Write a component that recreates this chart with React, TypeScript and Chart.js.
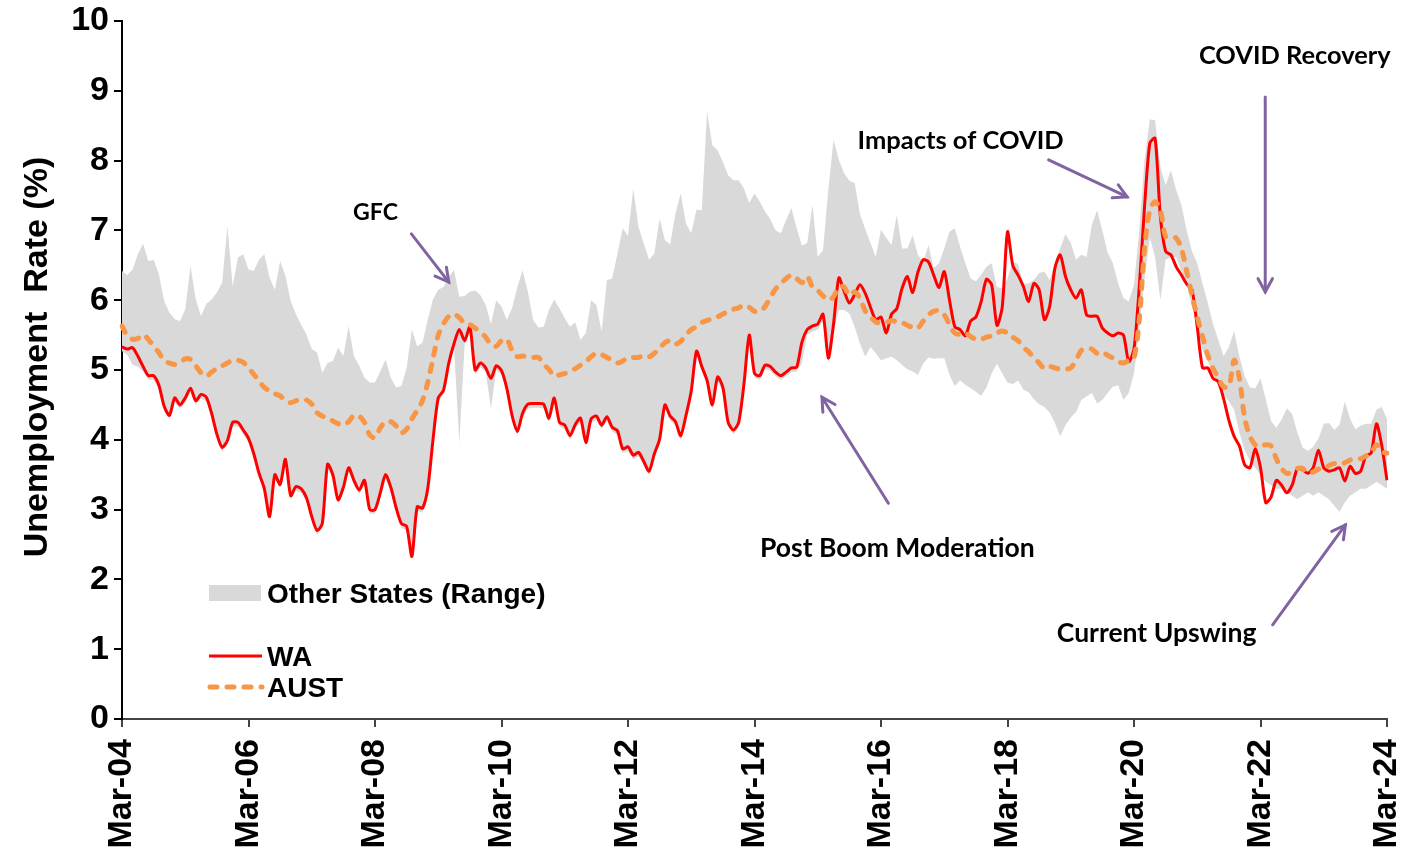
import React, { useEffect, useRef } from "react";
import { Chart, registerables } from "chart.js";

Chart.register(...registerables);

// ---------- categories & tick labels ----------
const MONTH_NAMES = ["Jan", "Feb", "Mar", "Apr", "May", "Jun", "Jul", "Aug", "Sep", "Oct", "Nov", "Dec"];
const N_MONTHS = 241; // Mar-04 .. Mar-24
const MONTHS: string[] = [];
for (let i = 0; i < N_MONTHS; i++) {
  const k = 2 + i;
  const yr = 2004 + Math.floor(k / 12);
  MONTHS.push(`${MONTH_NAMES[k % 12]}-${String(yr % 100).padStart(2, "0")}`);
}
const TICK_LABELS = ["Mar-04", "Mar-06", "Mar-08", "Mar-10", "Mar-12", "Mar-14", "Mar-16", "Mar-18", "Mar-20", "Mar-22", "Mar-24"];
const Y_TICKS = [0, 1, 2, 3, 4, 5, 6, 7, 8, 9, 10];

// ---------- series ----------
const WA = [
  5.33, 5.30, 5.32, 5.20, 5.05, 4.92, 4.92, 4.78, 4.48, 4.35,
  4.60, 4.50, 4.60, 4.74, 4.56, 4.65, 4.61, 4.38, 4.08, 3.89,
  3.99, 4.25, 4.25, 4.14, 4.02, 3.80, 3.52, 3.30, 2.90, 3.50,
  3.36, 3.72, 3.20, 3.33, 3.30, 3.17, 2.90, 2.70, 2.80, 3.65,
  3.50, 3.14, 3.32, 3.60, 3.42, 3.28, 3.42, 3.00, 3.00, 3.24,
  3.50, 3.32, 3.03, 2.80, 2.76, 2.33, 3.04, 3.02, 3.30, 4.00,
  4.60, 4.71, 5.10, 5.38, 5.58, 5.42, 5.62, 5.00, 5.10, 5.03,
  4.88, 5.06, 4.99, 4.74, 4.35, 4.12, 4.38, 4.51, 4.52, 4.52,
  4.51, 4.31, 4.60, 4.25, 4.21, 4.06, 4.22, 4.31, 3.96, 4.30,
  4.34, 4.21, 4.33, 4.18, 4.13, 3.87, 3.90, 3.78, 3.82, 3.69,
  3.55, 3.80, 4.01, 4.50, 4.34, 4.26, 4.06, 4.35, 4.70, 5.27,
  5.05, 4.85, 4.50, 4.90, 4.75, 4.25, 4.14, 4.25, 4.80, 5.50,
  4.95, 4.92, 5.07, 5.05, 4.97, 4.92, 4.97, 5.03, 5.04, 5.40,
  5.58, 5.63, 5.66, 5.80, 5.17, 5.66, 6.32, 6.13, 5.96, 6.08,
  6.22, 6.10, 5.90, 5.72, 5.76, 5.53, 5.80, 5.88, 6.17, 6.34,
  6.11, 6.40, 6.58, 6.55, 6.36, 6.18, 6.41, 6.00, 5.62, 5.58,
  5.49, 5.70, 5.76, 5.98, 6.30, 6.22, 5.64, 5.90, 6.98, 6.50,
  6.36, 6.20, 5.98, 6.24, 6.15, 5.72, 5.91, 6.46, 6.65, 6.34,
  6.15, 6.03, 6.15, 5.79, 5.77, 5.77, 5.60, 5.53, 5.49, 5.53,
  5.50, 5.12, 5.30, 6.19, 7.34, 8.25, 8.32, 7.20, 6.70, 6.65,
  6.48, 6.36, 6.23, 6.15, 5.62, 5.03, 5.03, 4.88, 4.83, 4.59,
  4.28, 4.05, 3.91, 3.64, 3.60, 3.87, 3.60, 3.10, 3.18, 3.42,
  3.35, 3.24, 3.35, 3.59, 3.57, 3.52, 3.60, 3.85, 3.60, 3.55,
  3.57, 3.60, 3.41, 3.62, 3.52, 3.55, 3.77, 3.81, 4.23, 3.92,
  3.42,
];

const AUST = [
  5.63, 5.49, 5.44, 5.45, 5.51, 5.44, 5.34, 5.25, 5.13, 5.10,
  5.08, 5.10, 5.16, 5.15, 5.06, 4.96, 4.91, 4.97, 5.02, 5.06,
  5.10, 5.14, 5.14, 5.11, 5.03, 4.94, 4.84, 4.75, 4.70, 4.66,
  4.63, 4.56, 4.53, 4.56, 4.58, 4.57, 4.51, 4.39, 4.34, 4.31,
  4.27, 4.23, 4.21, 4.26, 4.35, 4.34, 4.25, 4.07, 4.03, 4.17,
  4.26, 4.26, 4.20, 4.10, 4.15, 4.30, 4.42, 4.56, 4.82, 5.16,
  5.50, 5.66, 5.77, 5.80, 5.75, 5.67, 5.65, 5.60, 5.54, 5.47,
  5.36, 5.34, 5.42, 5.44, 5.28, 5.19, 5.20, 5.18, 5.18, 5.18,
  5.08, 5.01, 4.91, 4.93, 4.95, 4.98, 5.02, 5.07, 5.12, 5.19,
  5.24, 5.22, 5.18, 5.14, 5.10, 5.13, 5.18, 5.18, 5.18, 5.21,
  5.19, 5.24, 5.31, 5.39, 5.42, 5.37, 5.41, 5.50, 5.58, 5.62,
  5.68, 5.71, 5.73, 5.76, 5.80, 5.84, 5.87, 5.89, 5.93, 5.90,
  5.84, 5.84, 5.91, 6.04, 6.16, 6.24, 6.31, 6.36, 6.31, 6.25,
  6.34, 6.19, 6.14, 6.06, 6.00, 6.05, 6.19, 6.19, 6.07, 6.12,
  6.03, 5.85, 5.76, 5.69, 5.67, 5.68, 5.71, 5.69, 5.68, 5.64,
  5.61, 5.60, 5.70, 5.79, 5.84, 5.85, 5.79, 5.65, 5.53, 5.51,
  5.53, 5.48, 5.44, 5.44, 5.47, 5.49, 5.53, 5.56, 5.53, 5.47,
  5.42, 5.33, 5.26, 5.18, 5.10, 5.02, 5.05, 5.03, 5.01, 5.01,
  5.03, 5.14, 5.28, 5.31, 5.30, 5.24, 5.26, 5.21, 5.17, 5.12,
  5.10, 5.14, 5.17, 5.72, 6.74, 7.29, 7.41, 7.29, 6.91, 6.91,
  6.89, 6.74, 6.41, 6.07, 5.76, 5.48, 5.21, 5.02, 4.89, 4.76,
  4.76, 5.14, 4.88, 4.31, 4.05, 3.93, 3.90, 3.93, 3.91, 3.73,
  3.59, 3.52, 3.54, 3.59, 3.59, 3.52, 3.54, 3.58, 3.60, 3.63,
  3.66, 3.64, 3.67, 3.71, 3.73, 3.73, 3.77, 3.81, 3.93, 3.83,
  3.81,
];

const RANGE_HIGH = [
  6.42, 6.36, 6.44, 6.66, 6.81, 6.56, 6.58, 6.37, 5.99, 5.82,
  5.73, 5.70, 5.87, 6.49, 6.01, 5.77, 5.95, 6.01, 6.11, 6.25,
  7.06, 6.20, 6.61, 6.66, 6.44, 6.42, 6.58, 6.66, 6.32, 6.15,
  6.56, 6.35, 5.99, 5.80, 5.65, 5.51, 5.30, 5.25, 4.96, 5.10,
  5.13, 5.32, 5.20, 5.63, 5.20, 5.06, 4.89, 4.82, 4.82, 4.98,
  5.15, 4.89, 4.75, 4.77, 5.03, 5.58, 5.34, 5.39, 5.72, 6.01,
  6.15, 6.19, 6.34, 6.43, 6.05, 6.06, 6.12, 6.14, 6.07, 5.93,
  5.66, 6.00, 5.91, 5.72, 5.88, 6.19, 6.43, 6.12, 5.72, 5.61,
  5.62, 5.86, 6.01, 5.88, 5.74, 5.62, 5.68, 5.43, 5.53, 6.00,
  5.93, 5.55, 6.29, 6.31, 6.67, 7.03, 6.92, 7.60, 7.05, 6.81,
  6.58, 6.67, 7.17, 6.86, 6.80, 7.24, 7.53, 7.10, 6.96, 7.30,
  7.29, 8.70, 8.22, 8.15, 7.98, 7.79, 7.72, 7.72, 7.60, 7.39,
  7.53, 7.41, 7.27, 7.16, 7.00, 6.96, 7.15, 7.32, 7.03, 6.78,
  6.82, 7.36, 6.62, 6.72, 7.58, 8.30, 8.01, 7.82, 7.71, 7.68,
  7.24, 7.02, 6.82, 6.62, 7.01, 6.89, 6.79, 7.22, 6.74, 6.74,
  6.93, 6.65, 6.55, 6.79, 6.46, 6.53, 6.74, 6.98, 7.03, 6.77,
  6.53, 6.31, 6.27, 6.36, 6.48, 6.53, 6.19, 6.17, 6.31, 6.55,
  6.52, 6.24, 6.24, 6.29, 6.39, 6.41, 6.29, 6.53, 6.74, 6.95,
  6.82, 6.58, 6.65, 6.62, 7.08, 7.29, 7.00, 6.68, 6.53, 6.24,
  6.03, 5.98, 6.22, 7.00, 8.01, 8.59, 8.58, 7.91, 7.65, 7.86,
  7.58, 7.36, 7.00, 6.70, 6.53, 6.24, 5.96, 5.66, 5.43, 5.20,
  5.33, 5.56, 5.19, 4.91, 4.75, 4.74, 4.88, 4.58, 4.27, 4.17,
  4.29, 4.45, 4.37, 4.10, 3.89, 3.84, 3.90, 4.02, 4.23, 4.24,
  4.14, 4.22, 4.55, 4.30, 4.15, 4.20, 4.23, 4.23, 4.43, 4.47,
  4.30,
];

const RANGE_LOW = [
  5.27, 5.22, 5.07, 5.05, 4.98, 4.86, 4.86, 4.72, 4.42, 4.29,
  4.54, 4.44, 4.54, 4.68, 4.50, 4.59, 4.55, 4.32, 4.02, 3.83,
  3.93, 4.19, 4.19, 4.08, 3.96, 3.74, 3.46, 3.24, 2.84, 3.44,
  3.30, 3.66, 3.14, 3.27, 3.24, 3.11, 2.84, 2.64, 2.74, 3.59,
  3.44, 3.08, 3.26, 3.54, 3.36, 3.22, 3.36, 2.94, 2.94, 3.18,
  3.44, 3.26, 2.97, 2.74, 2.70, 2.27, 2.98, 2.96, 3.24, 3.94,
  4.54, 4.65, 5.04, 5.32, 3.95, 5.36, 5.56, 4.94, 5.04, 4.97,
  4.45, 5.00, 4.93, 4.68, 4.29, 4.06, 4.32, 4.45, 4.46, 4.46,
  4.45, 4.25, 4.54, 4.19, 4.15, 4.00, 4.16, 4.25, 3.90, 4.24,
  4.28, 4.15, 4.27, 4.12, 4.07, 3.81, 3.84, 3.72, 3.76, 3.63,
  3.49, 3.74, 3.95, 4.44, 4.28, 4.20, 4.00, 4.29, 4.64, 5.21,
  4.99, 4.79, 4.44, 4.84, 4.69, 4.19, 4.08, 4.19, 4.74, 5.44,
  4.89, 4.86, 5.01, 4.99, 4.91, 4.86, 4.91, 4.97, 4.98, 5.10,
  5.50, 5.55, 5.58, 5.70, 5.10, 5.55, 5.86, 5.86, 5.81, 5.62,
  5.38, 5.19, 5.33, 5.24, 5.14, 5.17, 5.19, 5.14, 5.07, 5.01,
  4.98, 4.93, 5.09, 5.18, 5.16, 5.17, 5.17, 4.93, 4.77, 4.85,
  4.79, 4.74, 4.69, 4.63, 4.75, 4.95, 5.09, 4.95, 4.82, 4.80,
  4.85, 4.72, 4.68, 4.58, 4.51, 4.47, 4.39, 4.24, 4.05, 4.21,
  4.32, 4.40, 4.57, 4.62, 4.67, 4.52, 4.57, 4.67, 4.76, 4.78,
  4.57, 4.67, 4.95, 5.55, 6.30, 6.90, 6.62, 6.00, 6.58, 6.62,
  6.62, 6.41, 6.22, 5.91, 5.62, 5.29, 5.12, 4.95, 4.76, 4.64,
  4.55, 4.43, 4.10, 3.85, 3.70, 3.60, 3.50, 3.40, 3.35, 3.30,
  3.30, 3.25, 3.20, 3.15, 3.20, 3.25, 3.20, 3.25, 3.20, 3.15,
  3.05, 2.97, 3.10, 3.20, 3.25, 3.30, 3.30, 3.35, 3.40, 3.35,
  3.30,
];

// ---------- annotations (month index, value) ----------
const NOTES = [
  { text: "GFC", m: 48.1, v: 7.25, width: 45 },
  { text: "Impacts of COVID", m: 159.1, v: 8.28, width: 206 },
  { text: "COVID Recovery", m: 222.5, v: 9.5, width: 192 },
  { text: "Post Boom Moderation", m: 147.1, v: 2.45, width: 275 },
  { text: "Current Upswing", m: 196.3, v: 1.23, width: 200 },
];
const ARROWS = [
  { from: [54.9, 6.95], to: [62.0, 6.26] },
  { from: [175.8, 8.01], to: [190.7, 7.48] },
  { from: [216.9, 8.91], to: [216.9, 6.12] },
  { from: [145.4, 3.09], to: [132.8, 4.61] },
  { from: [218.3, 1.35], to: [232.1, 2.78] },
];

const RED = "#FF0000";
const ORANGE = "#F79646";
const GRAY = "#D9D9D9";
const PURPLE = "#8064A2";
const ARIAL = '"Liberation Sans", Arial, sans-serif';
const CALIBRI = 'Lato, "Open Sans", sans-serif';

const overlayPlugin = {
  id: "overlay",
  afterDraw(chart: any) {
    const ctx = chart.ctx as CanvasRenderingContext2D;
    const xs = chart.scales.x;
    const ys = chart.scales.y;
    const ca = chart.chartArea;
    const px = (m: number) => xs.getPixelForValue(m);
    const py = (v: number) => ys.getPixelForValue(v);

    ctx.save();
    // Y axis title
    ctx.save();
    ctx.translate(38, 357);
    ctx.rotate(-Math.PI / 2);
    ctx.fillStyle = "#000";
    ctx.font = `bold 34px ${ARIAL}`;
    ctx.textAlign = "center";
    ctx.textBaseline = "middle";
    ctx.fillText("Unemployment  Rate (%)", 0, 0);
    ctx.restore();

    // legend
    const lx = ca.left + 87;
    ctx.fillStyle = GRAY;
    ctx.fillRect(lx, 585, 52, 16);
    ctx.fillStyle = "#000";
    ctx.font = `bold 28px ${ARIAL}`;
    ctx.textAlign = "left";
    ctx.textBaseline = "alphabetic";
    ctx.fillText("Other States (Range)", lx + 58, 603);
    ctx.strokeStyle = RED;
    ctx.lineWidth = 3;
    ctx.beginPath();
    ctx.moveTo(lx, 656);
    ctx.lineTo(lx + 53, 656);
    ctx.stroke();
    ctx.fillText("WA", lx + 58, 666);
    ctx.strokeStyle = ORANGE;
    ctx.lineWidth = 5;
    ctx.lineCap = "round";
    ctx.setLineDash([7, 10]);
    ctx.beginPath();
    ctx.moveTo(lx + 1, 687);
    ctx.lineTo(lx + 53, 687);
    ctx.stroke();
    ctx.setLineDash([]);
    ctx.lineCap = "butt";
    ctx.fillText("AUST", lx + 58, 697);

    // annotation texts
    for (const n of NOTES) {
      ctx.font = `bold 100px ${CALIBRI}`;
      const w = ctx.measureText(n.text).width;
      const size = (100 * n.width) / w;
      ctx.font = `bold ${size.toFixed(1)}px ${CALIBRI}`;
      ctx.textAlign = "center";
      ctx.textBaseline = "middle";
      ctx.fillStyle = "#000";
      ctx.fillText(n.text, px(n.m), py(n.v));
    }

    // arrows
    ctx.strokeStyle = PURPLE;
    ctx.lineWidth = 3;
    ctx.lineCap = "round";
    for (const a of ARROWS) {
      const x0 = px(a.from[0]);
      const y0 = py(a.from[1]);
      const x1 = px(a.to[0]);
      const y1 = py(a.to[1]);
      const ang = Math.atan2(y1 - y0, x1 - x0);
      ctx.beginPath();
      ctx.moveTo(x0, y0);
      ctx.lineTo(x1, y1);
      ctx.stroke();
      const hl = 15;
      const spread = 0.5;
      ctx.beginPath();
      ctx.moveTo(x1 - hl * Math.cos(ang - spread), y1 - hl * Math.sin(ang - spread));
      ctx.lineTo(x1, y1);
      ctx.lineTo(x1 - hl * Math.cos(ang + spread), y1 - hl * Math.sin(ang + spread));
      ctx.stroke();
    }
    ctx.restore();
  },
};

export default function App() {
  const ref = useRef<HTMLCanvasElement | null>(null);

  useEffect(() => {
    if (!ref.current) return;
    const chart = new Chart(ref.current, {
      type: "line",
      data: {
        labels: MONTHS,
        datasets: [
          {
            label: "AUST",
            data: AUST,
            borderColor: ORANGE,
            borderWidth: 5,
            borderDash: [7, 10],
            borderCapStyle: "round",
            pointRadius: 0,
            fill: false,
            tension: 0.3,
          },
          {
            label: "WA",
            data: WA,
            borderColor: RED,
            borderWidth: 3,
            pointRadius: 0,
            fill: false,
            tension: 0.25,
          },
          {
            label: "Other States (Range)",
            data: RANGE_HIGH,
            borderColor: "rgba(0,0,0,0)",
            borderWidth: 1,
            backgroundColor: GRAY,
            pointRadius: 0,
            fill: "+1",
            tension: 0,
          },
          {
            label: "range-low",
            data: RANGE_LOW,
            borderColor: "rgba(0,0,0,0)",
            borderWidth: 1,
            pointRadius: 0,
            fill: false,
            tension: 0,
          },
        ],
      } as any,
      options: {
        animation: false,
        responsive: true,
        maintainAspectRatio: false,
        devicePixelRatio: 1,
        layout: { padding: { left: 0, right: 21, top: 21, bottom: 0 } },
        plugins: {
          legend: { display: false },
          tooltip: { enabled: false },
          title: { display: false },
        },
        scales: {
          x: {
            type: "category",
            grid: { drawOnChartArea: false, drawTicks: true, tickLength: 8, color: "#444", lineWidth: 2 },
            border: { display: true, color: "#444", width: 2 },
            ticks: {
              autoSkip: false,
              minRotation: 90,
              maxRotation: 90,
              padding: 12,
              color: "#000",
              font: { family: ARIAL, size: 34, weight: "bold" },
              callback: (value: any) => MONTHS[value as number],
            },
            afterBuildTicks: (scale: any) => {
              scale.ticks = scale.ticks.filter((t: any) => TICK_LABELS.includes(MONTHS[t.value]));
            },
            afterFit: (scale: any) => {
              scale.height = 135;
              scale.paddingLeft = 0;
              scale.paddingRight = 0;
            },
          },
          y: {
            type: "linear",
            min: Y_TICKS[0],
            max: Y_TICKS[Y_TICKS.length - 1],
            grid: { drawOnChartArea: false, drawTicks: true, tickLength: 8, color: "#000", lineWidth: 2 },
            border: { display: true, color: "#000", width: 2 },
            ticks: {
              stepSize: 1,
              padding: 5,
              color: "#000",
              font: { family: ARIAL, size: 34, weight: "bold" },
            },
            afterFit: (scale: any) => {
              scale.width = 122;
              scale.paddingTop = 0;
              scale.paddingBottom = 0;
            },
          },
        },
      } as any,
      plugins: [overlayPlugin],
    });
    return () => chart.destroy();
  }, []);

  return (
    <div style={{ position: "fixed", left: 0, top: 0, width: 1408, height: 854, background: "#fff" }}>
      <canvas ref={ref} />
    </div>
  );
}
